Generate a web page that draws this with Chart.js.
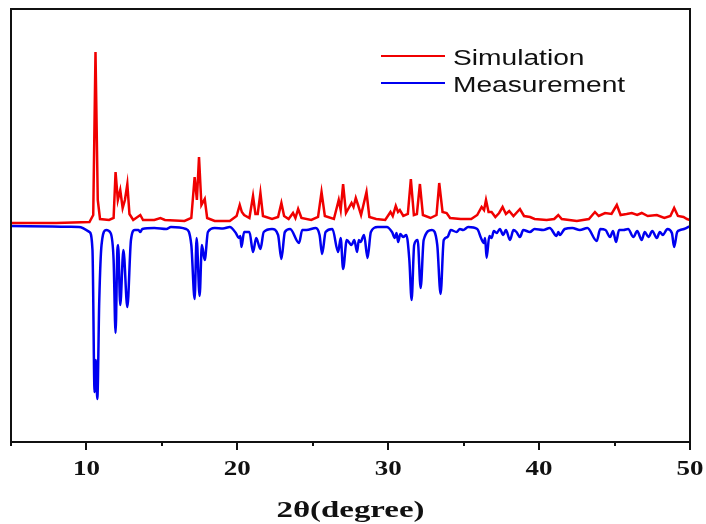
<!DOCTYPE html>
<html>
<head>
<meta charset="utf-8">
<script src="https://cdn.jsdelivr.net/npm/chart.js@4.4.1/dist/chart.umd.min.js"></script>
<style>
  html, body { margin: 0; padding: 0; background: #fff; }
  #wrap { width: 706px; height: 524px; }
</style>
</head>
<body>
<div id="wrap"><canvas id="xrd"></canvas></div>
<script>
// 2θ positions and plotted heights (red curve sits above the blue one, blue is drawn downward)
const simX = [5, 8, 10.2, 10.45, 10.6, 10.75, 10.9, 11.5, 11.8, 11.93, 12.08, 12.24, 12.4, 12.55, 12.71, 12.85, 13.1, 13.57, 13.75, 14.5, 14.9, 15.2, 16.5, 16.95, 17.17, 17.32, 17.46, 17.62, 17.84, 18.0, 18.5, 19.5, 19.95, 20.16, 20.3, 20.45, 20.8, 21.04, 21.2, 21.35, 21.53, 21.7, 22.3, 22.7, 22.92, 23.1, 23.4, 23.69, 23.85, 24.03, 24.25, 24.9, 25.35, 25.58, 25.8, 26.4, 26.72, 26.85, 27.01, 27.2, 27.57, 27.7, 27.85, 28.0, 28.2, 28.56, 28.75, 29.2, 29.8, 30.15, 30.3, 30.5, 30.65, 30.77, 31.0, 31.3, 31.5, 31.7, 31.9, 32.1, 32.3, 32.8, 33.2, 33.38, 33.6, 33.87, 34.1, 34.8, 35.5, 35.9, 36.19, 36.35, 36.48, 36.65, 36.85, 37.1, 37.35, 37.58, 37.8, 38.02, 38.3, 38.73, 39.0, 39.4, 39.7, 40.5, 41.0, 41.27, 41.5, 42.5, 43.3, 43.7, 43.95, 44.37, 44.8, 45.15, 45.4, 45.8, 46.14, 46.5, 46.8, 47.2, 47.8, 48.3, 48.7, 48.95, 49.2, 49.57, 49.8, 50];
const simY = [219, 219, 220, 227, 390, 242, 223, 222, 224, 270, 242, 252, 234, 242, 258, 228, 222, 227, 222, 222, 224, 222, 221, 224, 265, 242, 285, 237, 243, 224, 221, 221, 226, 237, 230, 227, 224, 246, 228, 228, 249, 226, 223, 225, 239, 226, 223, 229, 224, 233, 224, 222, 225, 250, 226, 223, 242, 232, 258, 229, 239, 235, 244, 237, 227, 250, 225, 223, 222, 230, 226, 236, 230, 232, 226, 228, 263, 227, 228, 258, 227, 224, 227, 259, 230, 229, 224, 223, 223, 227, 235, 232, 242, 230, 230, 225, 229, 235, 228, 231, 226, 233, 226, 225, 223, 222, 223, 227, 223, 221, 223, 230, 226, 229, 228, 237, 227, 228, 229, 227, 229, 226, 227, 224, 226, 234, 226, 225, 223, 222];

const measX = [5, 9.5, 10.2, 10.4, 10.54, 10.62, 10.72, 10.85, 11.0, 11.3, 11.6, 11.8, 11.93, 12.05, 12.1, 12.24, 12.45, 12.71, 12.95, 13.2, 13.45, 13.57, 13.7, 14.5, 15.3, 15.6, 16.6, 16.95, 17.17, 17.3, 17.5, 17.65, 17.84, 18.05, 18.5, 19.05, 19.5, 19.9, 20.1, 20.2, 20.27, 20.45, 20.8, 21.04, 21.25, 21.53, 21.75, 22.3, 22.7, 22.92, 23.15, 23.5, 24.09, 24.3, 24.58, 25.2, 25.45, 25.62, 25.85, 26.3, 26.68, 26.85, 27.01, 27.25, 27.57, 27.75, 27.94, 28.05, 28.16, 28.4, 28.63, 28.85, 29.3, 29.9, 30.25, 30.44, 30.55, 30.66, 30.8, 30.99, 31.2, 31.4, 31.55, 31.72, 31.95, 32.15, 32.35, 32.9, 33.25, 33.47, 33.68, 33.93, 34.15, 34.53, 34.75, 34.97, 35.3, 35.9, 36.15, 36.34, 36.42, 36.52, 36.7, 36.85, 37.0, 37.19, 37.4, 37.62, 37.8, 38.07, 38.3, 38.5, 38.73, 38.95, 39.39, 39.7, 40.28, 40.7, 41.16, 41.27, 41.38, 41.7, 42.2, 42.7, 43.2, 43.82, 44.05, 44.4, 44.7, 44.9, 45.1, 45.3, 45.59, 45.9, 46.25, 46.5, 46.8, 47.0, 47.25, 47.5, 47.8, 48.0, 48.2, 48.5, 48.8, 48.95, 49.15, 49.35, 49.6, 50];
const measY = [216, 215, 210, 192, 50, 82, 43, 142, 197, 212, 209, 182, 109, 192, 197, 137, 192, 135, 202, 212, 212, 210, 213, 214, 213, 215, 213, 197, 143, 204, 146, 197, 182, 210, 214, 213.5, 215, 209, 204, 206, 195, 210, 210, 190, 204, 193, 210, 213, 207, 183, 210, 213, 199, 212, 212, 214, 207, 188, 210, 213, 190, 204, 173, 202, 197, 202, 190, 202, 200, 207, 184, 210, 215, 215, 210, 204, 209, 200, 208, 205, 207, 182, 142, 197, 202, 154, 202, 212, 197, 148, 202, 205, 212, 210, 213, 212, 215, 213, 204, 199, 204, 184, 206, 204, 211, 209, 213, 207, 212, 202, 212, 210, 205, 212, 210, 213, 212, 214, 206, 210, 207, 213, 214, 212, 214, 201, 213, 212, 205, 211, 200, 212, 212, 213, 205, 211, 202, 210, 205, 211, 204, 210, 207, 213, 209, 195, 210, 212, 213, 216];

const majorTicks = [10, 20, 30, 40, 50];
const minorTicks = [5, 15, 25, 35, 45];
const seriesLabels = ["Simulation", "Measurement"];
const axisTitle = "2θ(degree)";

function toPoints(xs, ys) {
  return xs.map((x, i) => ({ x: x, y: ys[i] }));
}

// text in the figure is stretched sideways, so draw it with a horizontal scale
function stretchText(ctx, text, x, y, sx, align) {
  ctx.save();
  ctx.translate(x, y);
  ctx.scale(sx, 1);
  ctx.textAlign = align;
  ctx.textBaseline = "alphabetic";
  ctx.fillText(text, 0, 0);
  ctx.restore();
}

const framePlugin = {
  id: "frame",
  afterDraw(chart) {
    const ctx = chart.ctx;
    const a = chart.chartArea;
    const xs = chart.scales.x;

    ctx.save();
    ctx.strokeStyle = "#111";
    ctx.lineWidth = 2;
    ctx.strokeRect(a.left, a.top, a.right - a.left, a.bottom - a.top);

    // ticks pointing outwards
    ctx.beginPath();
    majorTicks.forEach((v) => {
      const px = Math.round(xs.getPixelForValue(v));
      ctx.moveTo(px, a.bottom); ctx.lineTo(px, a.bottom + 8);
    });
    minorTicks.forEach((v) => {
      const px = Math.round(xs.getPixelForValue(v));
      ctx.moveTo(px, a.bottom); ctx.lineTo(px, a.bottom + 4);
    });
    ctx.stroke();

    ctx.fillStyle = "#111";
    ctx.font = "bold 20px 'Liberation Serif', 'Times New Roman', serif";
    majorTicks.forEach((v) => {
      stretchText(ctx, String(v), xs.getPixelForValue(v), a.bottom + 33, 1.35, "center");
    });

    ctx.font = "bold 24px 'Liberation Serif', 'Times New Roman', serif";
    stretchText(ctx, axisTitle, (a.left + a.right) / 2, 517, 1.37, "center");

    // legend inside the plot, upper right
    ctx.font = "22px 'Liberation Sans', Arial, sans-serif";
    chart.data.datasets.forEach((ds, i) => {
      const ly = 56 + i * 27;
      ctx.strokeStyle = ds.borderColor;
      ctx.lineWidth = 2;
      ctx.beginPath();
      ctx.moveTo(381, ly); ctx.lineTo(445, ly);
      ctx.stroke();
      ctx.fillStyle = "#111";
      stretchText(ctx, ds.label, 453, ly + 9, 1.28, "left");
    });
    ctx.restore();
  }
};

new Chart(document.getElementById("xrd"), {
  type: "line",
  data: {
    datasets: [
      {
        label: seriesLabels[0],
        data: toPoints(simX, simY),
        borderColor: "#f00000",
        borderWidth: 2.5,
        pointRadius: 0,
        tension: 0
      },
      {
        label: seriesLabels[1],
        data: toPoints(measX, measY),
        borderColor: "#0000f0",
        borderWidth: 2.5,
        pointRadius: 0,
        cubicInterpolationMode: "monotone"
      }
    ]
  },
  options: {
    responsive: true,
    maintainAspectRatio: false,
    animation: false,
    layout: { padding: { left: 11, right: 16, top: 9, bottom: 82 } },
    plugins: { legend: { display: false }, tooltip: { enabled: false } },
    scales: {
      x: { type: "linear", min: 5, max: 50, display: false },
      y: { min: 0, max: 433, display: false }
    }
  },
  plugins: [framePlugin]
});
</script>
</body>
</html>
